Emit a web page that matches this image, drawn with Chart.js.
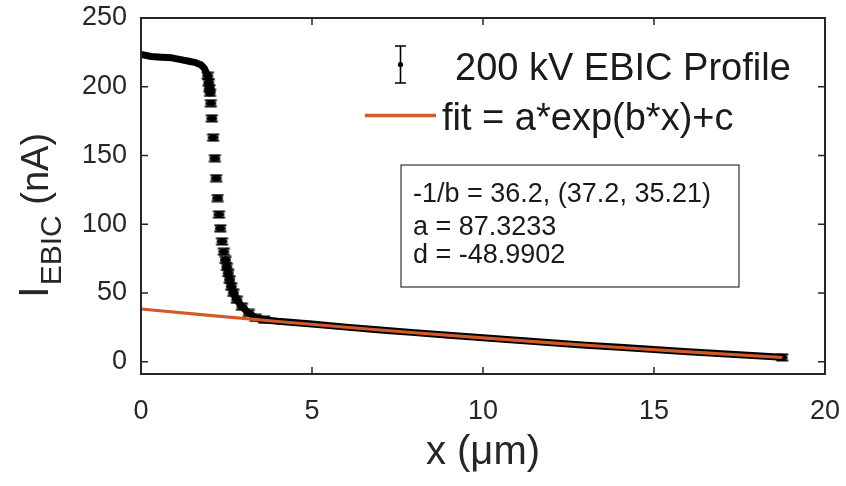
<!DOCTYPE html>
<html>
<head>
<meta charset="utf-8">
<script src="https://cdn.jsdelivr.net/npm/chart.js@4/dist/chart.umd.min.js"></script>
<style>
html,body{margin:0;padding:0;background:#fff;}
canvas{display:block;}
</style>
</head>
<body>
<canvas id="c" width="846" height="486"></canvas>
<script>
// ---- data ----
const profileX = [0, 0.3, 0.6, 0.9, 1.2, 1.4, 1.6, 1.75, 1.85, 1.95, 1.98, 2.0, 2.02,
  2.04, 2.07, 2.11, 2.16, 2.2, 2.24, 2.28, 2.32, 2.37, 2.42, 2.47, 2.51, 2.55, 2.59, 2.64,
  2.7, 2.8, 2.95, 3.15, 3.35, 3.6, 4, 5, 6, 7, 8, 9, 10, 11, 12, 13, 14, 15, 16, 17, 18, 18.75];
const profileY = [223.5, 222, 221.5, 221, 219.5, 218.5, 217.5, 216, 213.5, 208, 203, 199, 195.5,
  188, 177, 163, 148, 133.5, 119, 107, 97, 87.4, 80, 74, 69, 64.5, 59.6, 54.7,
  50, 45, 40, 35.4, 31.8, 30.5, 29.4, 27.3, 25.1, 23.0, 21.1, 19.2, 17.4, 15.5, 13.8, 12.0, 10.4, 8.8, 7.2, 5.7, 4.2, 3.1];
const fitX = [0, 2, 4, 6, 8, 10, 12, 14, 16, 18.75];
const fitY = [38.3, 33.6, 29.2, 25.0, 21.0, 17.3, 13.7, 10.3, 7.1, 3.0];
const xTicks = [0, 5, 10, 15, 20];
const yTicks = [0, 50, 100, 150, 200, 250];
const legendLabels = ['200 kV EBIC Profile', 'fit = a*exp(b*x)+c'];
const boxLines = ['-1/b = 36.2, (37.2, 35.21)', 'a = 87.3233', 'd = -48.9902'];
const xTitle = 'x (\u03BCm)';
const yTitleMain = 'I', yTitleSub = 'EBIC', yTitleRest = ' (nA)';

const AX = '#262626';
const ORANGE = '#D35A26';
const FONT = '"Liberation Sans", Arial, Helvetica, sans-serif';

// error-bar marker image
function makeMarker() {
  const cv = document.createElement('canvas');
  cv.width = 15; cv.height = 9;
  const g = cv.getContext('2d');
  g.strokeStyle = '#000'; g.fillStyle = '#000'; g.lineWidth = 2;
  g.beginPath();
  g.moveTo(1.5, 1.5); g.lineTo(13.5, 1.5);
  g.moveTo(1.5, 7.5); g.lineTo(13.5, 7.5);
  g.moveTo(7.5, 1.5); g.lineTo(7.5, 7.5);
  g.stroke();
  g.beginPath(); g.ellipse(7.5, 4.5, 5.5, 3, 0, 0, Math.PI * 2); g.fill();
  return cv;
}
const marker = makeMarker();

const decor = {
  id: 'decor',
  afterDraw(chart) {
    const ctx = chart.ctx;
    const a = chart.chartArea;
    const xs = chart.scales.x, ys = chart.scales.y;
    ctx.save();
    // inward ticks on all sides
    ctx.strokeStyle = AX; ctx.lineWidth = 1.5;
    ctx.beginPath();
    xTicks.forEach(v => {
      const px = xs.getPixelForValue(v);
      ctx.moveTo(px, a.bottom); ctx.lineTo(px, a.bottom - 7);
      ctx.moveTo(px, a.top); ctx.lineTo(px, a.top + 7);
    });
    yTicks.forEach(v => {
      const py = ys.getPixelForValue(v);
      ctx.moveTo(a.left, py); ctx.lineTo(a.left + 7, py);
      ctx.moveTo(a.right, py); ctx.lineTo(a.right - 7, py);
    });
    ctx.stroke();
    // box
    ctx.lineWidth = 2;
    ctx.strokeRect(a.left, a.top, a.right - a.left, a.bottom - a.top);

    // legend
    ctx.fillStyle = '#000';
    ctx.strokeStyle = '#000'; ctx.lineWidth = 1.6;
    ctx.beginPath();
    ctx.moveTo(395, 46); ctx.lineTo(406, 46);
    ctx.moveTo(395, 83); ctx.lineTo(406, 83);
    ctx.moveTo(400.5, 46); ctx.lineTo(400.5, 83);
    ctx.stroke();
    ctx.beginPath(); ctx.arc(400.5, 64.5, 2.6, 0, Math.PI * 2); ctx.fill();
    ctx.strokeStyle = ORANGE; ctx.lineWidth = 3.5;
    ctx.beginPath(); ctx.moveTo(365, 115.5); ctx.lineTo(436, 115.5); ctx.stroke();
    ctx.fillStyle = '#1a1a1a';
    ctx.font = '38px ' + FONT;
    ctx.textAlign = 'left'; ctx.textBaseline = 'alphabetic';
    ctx.fillText(legendLabels[0], 455, 80);
    ctx.fillText(legendLabels[1], 442, 130);

    // annotation box
    ctx.strokeStyle = '#333'; ctx.lineWidth = 1.2;
    ctx.fillStyle = '#fff';
    ctx.fillRect(401, 165, 338, 122);
    ctx.strokeRect(401, 165, 338, 122);
    ctx.fillStyle = '#1a1a1a';
    ctx.font = '27px ' + FONT;
    ctx.fillText(boxLines[0], 413, 202);
    ctx.fillText(boxLines[1], 413, 235);
    ctx.fillText(boxLines[2], 413, 263);

    // x title
    ctx.font = '40px ' + FONT;
    ctx.textAlign = 'center';
    ctx.fillStyle = '#262626';
    ctx.fillText(xTitle, (a.left + a.right) / 2, 464);

    // y title (rotated, with subscript)
    ctx.translate(48, 298);
    ctx.rotate(-Math.PI / 2);
    ctx.textAlign = 'left';
    ctx.font = '42px ' + FONT;
    ctx.fillText(yTitleMain, 0, 0);
    let off = ctx.measureText(yTitleMain).width + 1;
    ctx.font = '30px ' + FONT;
    ctx.fillText(yTitleSub, off, 13);
    off += ctx.measureText(yTitleSub).width;
    ctx.font = '38px ' + FONT;
    ctx.fillText(yTitleRest, off, 0);
    ctx.restore();
  }
};

new Chart(document.getElementById('c'), {
  type: 'scatter',
  data: {
    datasets: [
      {
        label: legendLabels[1],
        data: fitX.map((x, i) => ({x, y: fitY[i]})),
        showLine: true,
        borderColor: ORANGE,
        borderWidth: 3.2,
        pointRadius: 0,
        tension: 0,
        order: 0
      },
      {
        label: legendLabels[0],
        data: profileX.map((x, i) => ({x, y: profileY[i]})),
        showLine: true,
        borderColor: '#000',
        borderWidth: 7,
        borderCapStyle: 'round',
        borderJoinStyle: 'round',
        segment: {
          borderColor: c => Math.abs(c.p0.parsed.y - c.p1.parsed.y) > 5.5 ? 'rgba(0,0,0,0)' : '#000'
        },
        pointStyle: marker,
        pointRadius: c => {
          const p = c.raw;
          if (!p) return 5;
          return (p.x > 1.9 && p.x < 3.7) || p.x > 18.5 ? 5 : 0;
        },
        tension: 0,
        order: 1
      }
    ]
  },
  options: {
    responsive: false,
    animation: false,
    layout: { padding: { top: 18, right: 21, left: 0, bottom: 0 } },
    plugins: { legend: { display: false }, tooltip: { enabled: false } },
    scales: {
      x: {
        type: 'linear', min: 0, max: 20,
        grid: { display: false, drawTicks: false },
        border: { display: false },
        afterBuildTicks: s => { s.ticks = xTicks.map(v => ({value: v})); },
        afterFit: s => { s.height = 112; s.paddingLeft = 0; s.paddingRight = 0; },
        ticks: { font: { family: FONT, size: 27 }, color: AX, padding: 21, maxRotation: 0, autoSkip: false }
      },
      y: {
        type: 'linear', min: -9, max: 250,
        grid: { display: false, drawTicks: false },
        border: { display: false },
        afterBuildTicks: s => { s.ticks = yTicks.map(v => ({value: v})); },
        afterFit: s => { s.width = 141; s.paddingTop = 0; s.paddingBottom = 0; },
        ticks: { font: { family: FONT, size: 27 }, color: AX, padding: 14, autoSkip: false }
      }
    }
  },
  plugins: [decor]
});
</script>
</body>
</html>
